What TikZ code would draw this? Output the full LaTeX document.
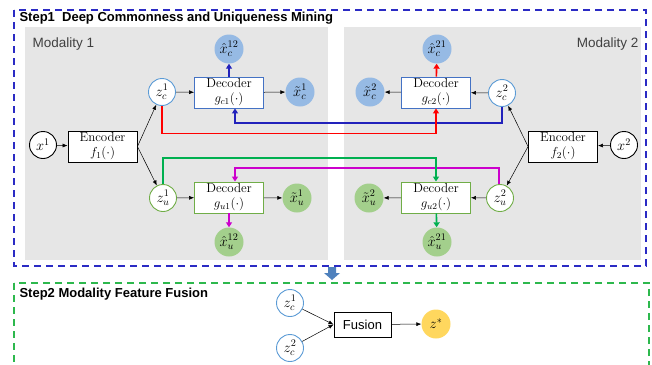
\documentclass[tikz,border=0pt]{standalone}
\usepackage{fix-cm}
\usepackage{amsmath}
\usepackage{fontspec}
\setsansfont{Liberation Sans}
\usepackage{tikz}
\usetikzlibrary{arrows.meta}

\definecolor{panel}{HTML}{E6E6E6}
\definecolor{ringblue}{HTML}{5B9BD5}
\definecolor{ballblue}{HTML}{96BAE4}
\definecolor{ringgreen}{HTML}{70AD47}
\definecolor{ballgreen}{HTML}{A3CF8C}
\definecolor{boxblue}{HTML}{4472C4}
\definecolor{ballyellow}{HTML}{FFD75E}
\definecolor{lred}{HTML}{FF0000}
\definecolor{lblue}{HTML}{2222BB}
\definecolor{lgreen}{HTML}{00B050}
\definecolor{lmag}{HTML}{CC00CC}
\definecolor{frameblue}{HTML}{2B2BC4}
\definecolor{framegreen}{HTML}{2DB84D}
\definecolor{fatarrow}{HTML}{4F81BD}

\tikzset{
  ring/.style={circle, draw=#1, line width=0.9pt, fill=white, minimum size=27pt, inner sep=0pt,
    font=\fontsize{14.5}{15}\selectfont},
  ball/.style={circle, fill=#1, minimum size=29pt, inner sep=0pt, font=\fontsize{14.5}{15}\selectfont},
  box/.style={draw=#1, line width=0.9pt, fill=white, minimum width=69pt, minimum height=31pt,
    inner sep=0.5pt, align=center, font=\fontsize{13}{15}\selectfont},
  feed/.style={-{Latex[length=5pt,width=4pt]}, line width=0.5pt},
  route/.style={draw=#1, line width=1.6pt, -{Triangle[length=5pt,width=6pt]}},
  frame/.style={draw=#1, line width=1.8pt, dash pattern=on 7pt off 5pt},
  steptitle/.style={anchor=west, font=\sffamily\bfseries\fontsize{13}{15}\selectfont},
}

\begin{document}
\begin{tikzpicture}[x=1pt,y=-1pt]
\useasboundingbox (0,0) rectangle (652,364);
\clip (0,0) rectangle (652,364);

% panels of the two modalities
\fill [panel] (25,27) rectangle (328,260);
\fill [panel] (344,27) rectangle (641,260);
\node at (29,44) [anchor=west, text=black!75, font=\sffamily\fontsize{13.5}{15}\selectfont] {Modality 1};
\node at (642,44) [anchor=east, text=black!75, font=\sffamily\fontsize{13.5}{15}\selectfont] {Modality 2};

% step 1 frame
\draw [frame=frameblue] (14,10) rectangle (646,266);
\node at (16,18) [steptitle] {Step1\ \ Deep Commonness and Uniqueness Mining};

% modality 1
\node (x1) at (43,145) [ring=black] {$x^1$};
\node (enc1) at (102.5,146.5) [box=black] {Encoder\\$f_1(\cdot)$};
\node (zc1) at (162,92) [ring=ringblue] {$z_c^1$};
\node (dc1) at (229,92.5) [box=boxblue] {Decoder\\$g_{c1}(\cdot)$};
\node (xtc1) at (300,92) [ball=ballblue] {$\tilde{x}_c^1$};
\node (xhc12) at (229,49) [ball=ballblue] {$\hat{x}_c^{12}$};
\node (zu1) at (163,198) [ring=ringgreen] {$z_u^1$};
\node (du1) at (229,197.5) [box=ringgreen] {Decoder\\$g_{u1}(\cdot)$};
\node (xtu1) at (297,198) [ball=ballgreen] {$\tilde{x}_u^1$};
\node (xhu12) at (229,242) [ball=ballgreen] {$\hat{x}_u^{12}$};

% modality 2
\node (x2) at (624,145) [ring=black] {$x^2$};
\node (enc2) at (563,146.5) [box=black] {Encoder\\$f_2(\cdot)$};
\node (zc2) at (502,93) [ring=ringblue] {$z_c^2$};
\node (dc2) at (436,92.5) [box=boxblue] {Decoder\\$g_{c2}(\cdot)$};
\node (xtc2) at (370,92) [ball=ballblue] {$\tilde{x}_c^2$};
\node (xhc21) at (437,49) [ball=ballblue] {$\hat{x}_c^{21}$};
\node (zu2) at (500,198) [ring=ringgreen] {$z_u^2$};
\node (du2) at (436,197.5) [box=ringgreen] {Decoder\\$g_{u2}(\cdot)$};
\node (xtu2) at (369,198) [ball=ballgreen] {$\tilde{x}_u^2$};
\node (xhu21) at (437,242) [ball=ballgreen] {$\hat{x}_u^{21}$};

% encoders and own decoders
\draw [feed] (x1) -- (enc1);
\draw [feed] (enc1.east) -- (zc1);
\draw [feed] (enc1.east) -- (zu1);
\draw [feed] (zc1) -- (dc1);
\draw [feed] (dc1) -- (xtc1);
\draw [feed] (zu1) -- (du1);
\draw [feed] (du1) -- (xtu1);
\draw [feed] (x2) -- (enc2);
\draw [feed] (enc2.west) -- (zc2);
\draw [feed] (enc2.west) -- (zu2);
\draw [feed] (zc2) -- (dc2);
\draw [feed] (dc2) -- (xtc2);
\draw [feed] (zu2) -- (du2);
\draw [feed] (du2) -- (xtu2);

% cross routes
\draw [route=lblue] (zc2.south) -- ++(0,16) -| ([xshift=6]dc1.south);
\draw [route=lred] (zc1.south) -- ++(0,27.5) -| (dc2.south);
\draw [route=lmag] ([xshift=-1]zu2.north) -- ++(0,-16) -| ([xshift=6]du1.north);
\draw [route=lgreen] (zu1.north) -- ++(0,-26) -| (du2.north);
\draw [route=lblue] (dc1) -- (xhc12);
\draw [route=lred] (dc2) -- (xhc21);
\draw [route=lmag] (du1) -- (xhu12);
\draw [route=lgreen] (du2) -- (xhu21);

% arrow between the steps
\fill [fatarrow] (328,267) -- (336,267) -- (336,273) -- (340,273) -- (332,280)
  -- (324,273) -- (328,273) -- cycle;

% step 2 frame
\draw [frame=framegreen] (14,283) rectangle (649,380);
\node at (16,294) [steptitle] {Step2 Modality Feature Fusion};

\node (fz1) at (290,303) [ring=ringblue] {$z_c^1$};
\node (fz2) at (290,348) [ring=ringblue] {$z_c^2$};
\node (fus) at (362.5,324.5) [draw, line width=0.9pt, minimum width=57pt, minimum height=25pt,
  font=\sffamily\fontsize{13}{15}\selectfont] {Fusion};
\node (zs) at (436,324) [ball=ballyellow] {$z^*$};
\draw [feed] (fz1) -- (fus.west);
\draw [feed] (fz2) -- (fus.west);
\draw [feed] (fus) -- (zs);
\end{tikzpicture}
\end{document}
